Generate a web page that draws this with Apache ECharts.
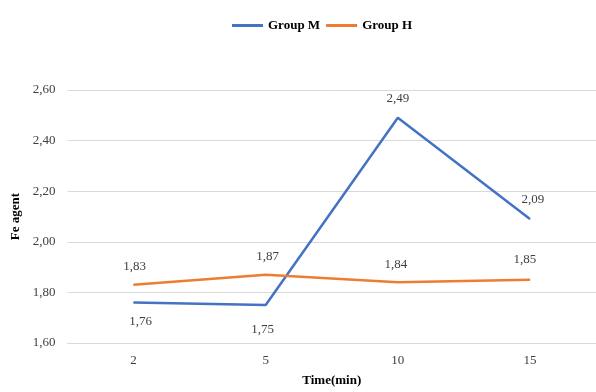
<!DOCTYPE html>
<html>
<head>
<meta charset="utf-8">
<script src="https://cdn.jsdelivr.net/npm/echarts@6/dist/echarts.min.js"></script>
<style>html,body{margin:0;padding:0;background:#fff;}#c{width:596px;height:392px;}</style>
</head>
<body>
<div id="c"></div>
<script>
var categories = ['2', '5', '10', '15'];
var groupM = [1.76, 1.75, 2.49, 2.09];
var groupH = [1.83, 1.87, 1.84, 1.85];
var yTicks = { min: 1.6, max: 2.6, step: 0.2 };

var SERIF = '"Liberation Serif", "Times New Roman", serif';
function fmt(v) { return Number(v).toFixed(2).replace('.', ','); }

var mOffsets = [[7, 19], [-3, 25], [0, -19], [3, -19]];
var hOffsets = [[1, -18], [2, -18], [-2, -18], [-5, -20]];

function build(values, offsets) {
  return values.map(function (v, i) {
    return { value: v, label: { offset: offsets[i] } };
  });
}

var chart = echarts.init(document.getElementById('c'), null, { renderer: 'canvas' });
chart.setOption({
  animation: false,
  backgroundColor: '#fff',
  legend: {
    top: 14,
    left: 227,
    icon: 'rect',
    itemWidth: 31,
    itemHeight: 3,
    itemGap: 6,
    textStyle: { fontFamily: SERIF, fontWeight: 'bold', fontSize: 13, color: '#000' },
    data: ['Group M', 'Group H']
  },
  grid: { left: 67.5, width: 540, top: 90, height: 257, containLabel: false },
  xAxis: {
    type: 'category',
    data: categories,
    boundaryGap: true,
    name: 'Time(min)',
    nameLocation: 'middle',
    nameGap: 31,
    nameTextStyle: { fontFamily: SERIF, fontWeight: 'bold', fontSize: 13, color: '#000' },
    axisLine: { lineStyle: { color: '#d9d9d9', width: 1 } },
    axisTick: { show: false },
    axisLabel: { fontFamily: SERIF, fontSize: 13, color: '#404040', margin: 11 }
  },
  yAxis: {
    type: 'value',
    min: yTicks.min,
    max: yTicks.max,
    interval: yTicks.step,
    name: 'Fe agent',
    nameLocation: 'middle',
    nameGap: 40,
    nameTextStyle: { fontFamily: SERIF, fontWeight: 'bold', fontSize: 13, color: '#000' },
    axisLine: { show: false },
    axisTick: { show: false },
    splitLine: { lineStyle: { color: '#d9d9d9', width: 1 } },
    axisLabel: { fontFamily: SERIF, fontSize: 13, color: '#404040', margin: 12, formatter: fmt }
  },
  series: [
    {
      name: 'Group M',
      type: 'line',
      data: build(groupM, mOffsets),
      symbol: 'circle',
      symbolSize: 1,
      itemStyle: { color: '#4472C4' },
      lineStyle: { color: '#4472C4', width: 2.5 },
      label: { show: true, position: 'inside', fontFamily: SERIF, fontSize: 13, color: '#404040',
               formatter: function (p) { return fmt(p.value); } }
    },
    {
      name: 'Group H',
      type: 'line',
      data: build(groupH, hOffsets),
      symbol: 'circle',
      symbolSize: 1,
      itemStyle: { color: '#ED7D31' },
      lineStyle: { color: '#ED7D31', width: 2.5 },
      label: { show: true, position: 'inside', fontFamily: SERIF, fontSize: 13, color: '#404040',
               formatter: function (p) { return fmt(p.value); } }
    }
  ]
});
</script>
</body>
</html>
